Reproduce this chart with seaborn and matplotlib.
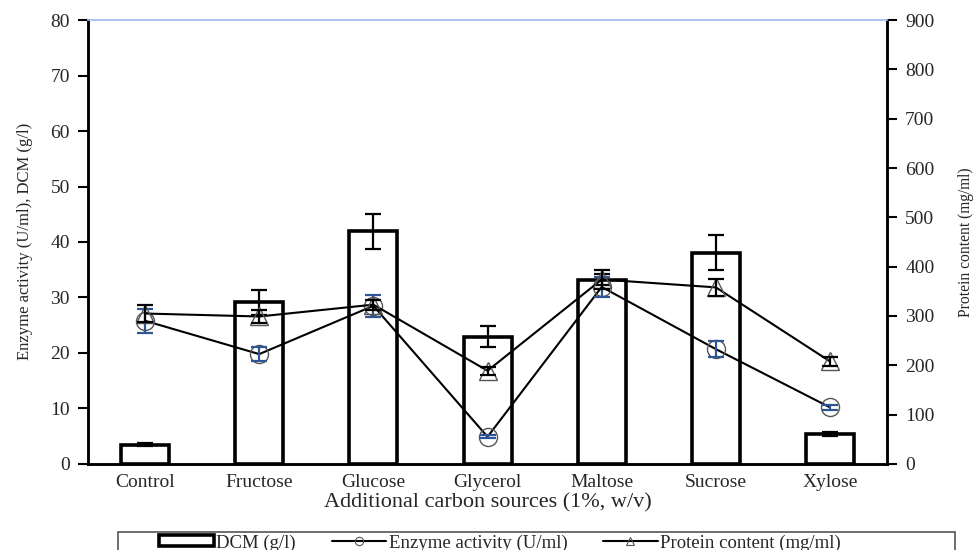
import numpy as np
import pandas as pd
import matplotlib
matplotlib.use("Agg")
import matplotlib.pyplot as plt
from matplotlib.patches import Rectangle
from matplotlib.lines import Line2D
import seaborn as sns

sources = ["Control", "Fructose", "Glucose", "Glycerol", "Maltose", "Sucrose", "Xylose"]
dcm = [3.5, 29.1, 41.9, 22.9, 33.2, 38.1, 5.4]
dcm_err = [0.2, 2.3, 3.1, 1.9, 1.0, 3.1, 0.3]
enzyme = [25.8, 19.8, 28.5, 4.9, 31.9, 20.7, 10.2]
enzyme_err = [2.2, 1.3, 2.0, 0.3, 1.8, 1.5, 0.5]
protein = [305, 299, 323, 189, 374, 358, 208]
protein_err = [18, 14, 10, 8, 20, 17, 9]

sns.set_theme(style="white")
plt.rcParams["font.family"] = ["Liberation Serif", "DejaVu Serif"]

fig = plt.figure(figsize=(9.79, 5.5), dpi=100)
ax = fig.add_axes([0.0899, 0.1564, 0.8162, 0.8072])

df = pd.DataFrame({"source": sources, "dcm": dcm})
sns.barplot(data=df, x="source", y="dcm", ax=ax, color="white", width=0.42,
            edgecolor="black", linewidth=2.6, errorbar=None, saturation=1)
x = np.arange(len(sources))
ax.errorbar(x, dcm, yerr=dcm_err, fmt="none", ecolor="black", elinewidth=1.6,
            capsize=6, capthick=1.6, zorder=4)

# enzyme activity on the left axis
ax.plot(x, enzyme, color="black", lw=1.5, zorder=5)
ax.plot(x, enzyme, ls="none", marker="o", ms=13, mfc="none", mec="#555555",
        mew=1.0, zorder=6)
ax.errorbar(x, enzyme, yerr=enzyme_err, fmt="none", ecolor="#2F5597",
            elinewidth=1.6, capsize=6, capthick=1.6, zorder=7)

ax.set_ylim(0, 80)
ax.set_yticks(range(0, 81, 10))
ax.set_xlim(-0.5, len(sources) - 0.5)
ax.set_xticks(x)
ax.set_xticklabels(sources, fontsize=14)
ax.set_xticks(np.arange(-0.5, len(sources), 1.0), minor=True)
ax.tick_params(axis="x", which="major", length=0, pad=7)
ax.tick_params(axis="x", which="minor", length=6, width=1.5, direction="out",
               color="black")
ax.tick_params(axis="y", length=7, width=1.5, direction="out", color="black",
               labelsize=14, left=True, pad=6)
ax.set_xlabel("Additional carbon sources (1%, w/v)", fontsize=16)
ax.xaxis.set_label_coords(0.5, -0.066)
ax.set_ylabel("Enzyme activity (U/ml), DCM (g/l)", fontsize=12)
ax.yaxis.set_label_coords(-0.069, 0.502)

# protein content on the right axis
ax2 = ax.twinx()
ax2.plot(x, protein, color="black", lw=1.5, zorder=5)
ax2.plot(x, protein, ls="none", marker="^", ms=13, mfc="none", mec="#555555",
         mew=1.0, zorder=6)
ax2.errorbar(x, protein, yerr=protein_err, fmt="none", ecolor="black",
             elinewidth=1.6, capsize=6, capthick=1.6, zorder=7)
ax2.set_ylim(0, 900)
ax2.set_yticks(range(0, 901, 100))
ax2.tick_params(axis="y", length=7, width=1.5, direction="out", color="black",
                labelsize=14, right=True, pad=6)
ax2.set_ylabel("Protein content (mg/ml)", fontsize=11.2)
ax2.yaxis.set_label_coords(1.089, 0.5)

for a in (ax, ax2):
    for side in ("left", "right", "bottom"):
        a.spines[side].set_color("black")
        a.spines[side].set_linewidth(1.8)
    a.spines["top"].set_color("#A9C4F0")
    a.spines["top"].set_linewidth(1.2)

# legend strip at the bottom
fig.patches.append(Rectangle((118 / 979, -0.02), (955 - 118) / 979, 0.053,
                             transform=fig.transFigure, facecolor="white",
                             edgecolor="#555555", lw=1.2))
h_bar = Rectangle((0, 0), 1, 1, facecolor="white", edgecolor="black", lw=2.6)
h_enz = Line2D([], [], color="black", lw=1.5, marker="o", ms=6, mfc="none",
               mec="#555555", mew=0.8)
h_pro = Line2D([], [], color="black", lw=1.5, marker="^", ms=6, mfc="none",
               mec="#555555", mew=0.8)
fig.legend([h_bar, h_enz, h_pro],
           ["DCM (g/l)", "Enzyme activity (U/ml)", "Protein content (mg/ml)"],
           loc="center", bbox_to_anchor=(0.511, 0.013), ncol=3, frameon=False,
           fontsize=13.5, handlelength=2.9, handleheight=0.55, handletextpad=0.15,
           columnspacing=1.9)

fig.savefig("out.png", dpi=100)
